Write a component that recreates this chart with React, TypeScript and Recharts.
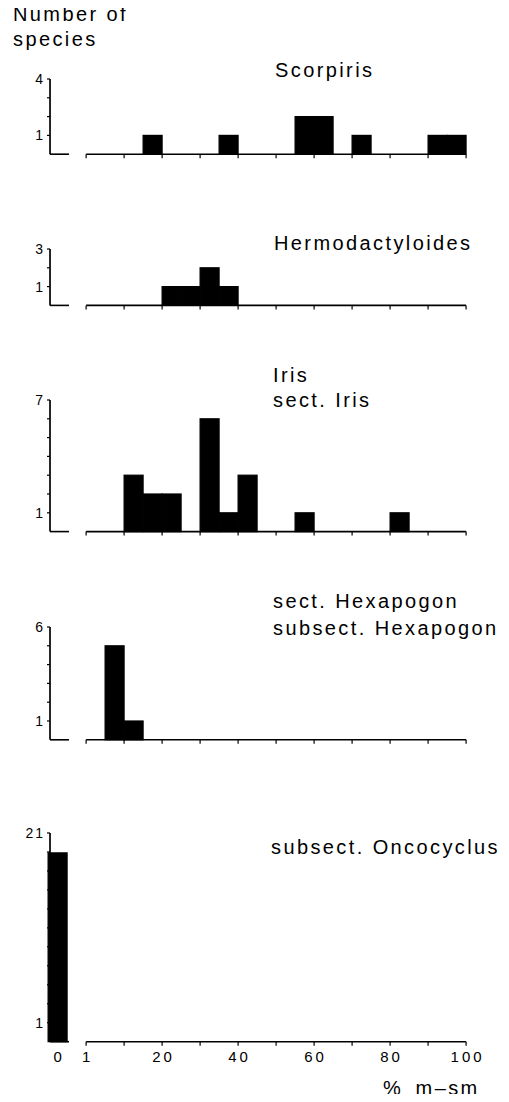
import { Bar, BarChart, ReferenceLine, XAxis, YAxis } from "recharts";

const FONT = '"Liberation Sans", Arial, Helvetica, sans-serif';

// bins of 5 % m-sm, given by their upper bound (1-5, 6-10, ... 96-100)
const binUpper = [5, 10, 15, 20, 25, 30, 35, 40, 45, 50, 55, 60, 65, 70, 75, 80, 85, 90, 95, 100];

// number of species per bin
const scorpiris = [0, 0, 0, 1, 0, 0, 0, 1, 0, 0, 0, 2, 2, 0, 1, 0, 0, 0, 1, 1];
const hermodactyloides = [0, 0, 0, 0, 1, 1, 2, 1, 0, 0, 0, 0, 0, 0, 0, 0, 0, 0, 0, 0];
const sectIris = [0, 0, 3, 2, 2, 0, 6, 1, 3, 0, 0, 1, 0, 0, 0, 0, 1, 0, 0, 0];
const hexapogon = [0, 5, 1, 0, 0, 0, 0, 0, 0, 0, 0, 0, 0, 0, 0, 0, 0, 0, 0, 0];
const oncocyclus = [0, 0, 0, 0, 0, 0, 0, 0, 0, 0, 0, 0, 0, 0, 0, 0, 0, 0, 0, 0];
const series = [scorpiris, hermodactyloides, sectIris, hexapogon, oncocyclus];

// species with 0 % m-sm (separate column on the left)
const zeroCounts = [0, 0, 0, 0, 19];

const titles = [
  ["Scorpiris"],
  ["Hermodactyloides"],
  ["Iris", "sect. Iris"],
  ["sect. Hexapogon", "subsect. Hexapogon"],
  ["subsect. Oncocyclus"],
];

const yMax = [4, 3, 7, 6, 21];
const yTicks = [
  [1, 2, 3, 4],
  [1, 2, 3],
  [1, 2, 3, 4, 5, 6, 7],
  [1, 2, 3, 4, 5, 6],
  [1.91, 3.82, 5.73, 7.64, 9.55, 11.45, 13.36, 15.27, 17.18, 19.09, 21],
];
const yTickLabels = [
  ["1", "", "", "4"],
  ["1", "", "3"],
  ["1", "", "", "", "", "", "7"],
  ["1", "", "", "", "", "6"],
  ["1", "", "", "", "", "", "", "", "", "", "21"],
];

const xTicks = [0, 10, 20, 30, 40, 50, 60, 70, 80, 90, 100];
const xTickLabels = ["1", "", "20", "", "40", "", "60", "", "80", "", "100"];
const zeroLabel = "0";

// layout (page pixels)
const ZERO_X = -7.5;
const X_DOMAIN: [number, number] = [-9.5, 100];
const CHART_W = 500;
const PLOT_LEFT = 42;
const PLOT_W = 416.1;
const PLOT_RIGHT_MARGIN = CHART_W - PLOT_LEFT - PLOT_W;
const UNIT_X = PLOT_W / (X_DOMAIN[1] - X_DOMAIN[0]);
const BAR_PX = 5 * UNIT_X - 0.01;
const TOP_M = 10;
const X_AXIS_H = 30;
const plotTop = [78.8, 248.6, 400.1, 627.2, 833.3];
const plotH = [75.2, 56.4, 131.6, 112.8, 208.7];
const titleX = [275, 274, 273, 273, 271];
const titleBase = [[77], [250.5], [382, 407], [608, 635], [854]];

const textStyle: React.CSSProperties = {
  position: "absolute",
  fontFamily: FONT,
  fontSize: 20,
  letterSpacing: 2.4,
  lineHeight: "25px",
  whiteSpace: "nowrap",
  color: "#000",
};

function Line({ text, x, base }: { text: string; x: number; base: number }) {
  return <div style={{ ...textStyle, left: x - 8, top: base - 19.43 - 8 }}>{text}</div>;
}

function XTick(props: any) {
  const { x, y, index, showLabels } = props;
  const label = index === 0 ? zeroLabel : xTickLabels[index - 1];
  return (
    <g>
      {index > 0 && <line x1={x} x2={x} y1={y} y2={y + 4} stroke="#000" strokeWidth={1.2} />}
      {showLabels && label && (
        <text x={x} dx={1.5} y={y + 20} textAnchor="middle" fontFamily={FONT} fontSize={15} letterSpacing={3} fill="#000">
          {label}
        </text>
      )}
    </g>
  );
}

function YTick(props: any) {
  const { x, y, index, labels } = props;
  const label = labels[index];
  if (!label) return <g />;
  return (
    <text x={x} dx={2} y={y} dy="0.36em" textAnchor="end" fontFamily={FONT} fontSize={14} letterSpacing={2} fill="#000">
      {label}
    </text>
  );
}

// solid block; a thin stroke of the same colour closes the seams between adjacent bins
function Block(props: any) {
  const { x, y, width, height } = props;
  if (!height || height <= 0) return <g />;
  return <rect x={x} y={y} width={width} height={height} fill="#000" stroke="#000" strokeWidth={1.2} />;
}

function Panel({ i }: { i: number }) {
  const rows = [
    { x: ZERO_X, count: zeroCounts[i] },
    ...binUpper.map((u, k) => ({ x: u - 2.5, count: series[i][k] })),
  ];
  const last = i === series.length - 1;
  return (
    <div style={{ position: "absolute", left: 0, top: plotTop[i] - TOP_M - 8 }}>
      <BarChart
        width={CHART_W}
        height={TOP_M + plotH[i] + X_AXIS_H}
        data={rows}
        margin={{ top: TOP_M, right: PLOT_RIGHT_MARGIN, bottom: 0, left: 0 }}
      >
        <XAxis
          type="number"
          dataKey="x"
          domain={X_DOMAIN}
          ticks={[ZERO_X, ...xTicks]}
          interval={0}
          axisLine={false}
          tickLine={false}
          tickSize={0}
          tickMargin={0}
          height={X_AXIS_H}
          tick={(p: any) => <XTick {...p} showLabels={last} />}
        />
        <YAxis
          type="number"
          domain={[0, yMax[i]]}
          ticks={yTicks[i]}
          interval={0}
          width={PLOT_LEFT}
          axisLine={{ stroke: "#000", strokeWidth: 1.7 }}
          tickLine={{ stroke: "#000", strokeWidth: 1.2 }}
          tickSize={3}
          tickMargin={4}
          tick={(p: any) => <YTick {...p} labels={yTickLabels[i]} />}
        />
        <Bar dataKey="count" fill="#000" barSize={BAR_PX} shape={Block} isAnimationActive={false} />
        <ReferenceLine segment={[{ x: -9.5, y: 0 }, { x: -4.5, y: 0 }]} stroke="#000" strokeWidth={1.6} />
        <ReferenceLine segment={[{ x: 0, y: 0 }, { x: 100, y: 0 }]} stroke="#000" strokeWidth={1.6} />
      </BarChart>
    </div>
  );
}

export default function App() {
  return (
    <div style={{ position: "relative", width: 493, height: 1086, background: "#fff" }}>
      <Line text="Number of" x={13} base={21} />
      <Line text="species" x={13} base={46} />
      {series.map((_, i) => (
        <Panel key={i} i={i} />
      ))}
      {titles.map((lines, i) =>
        lines.map((t, j) => <Line key={`${i}-${j}`} text={t} x={titleX[i]} base={titleBase[i][j]} />)
      )}
      <Line text={"%\u2002m–sm"} x={383} base={1095} />
    </div>
  );
}
